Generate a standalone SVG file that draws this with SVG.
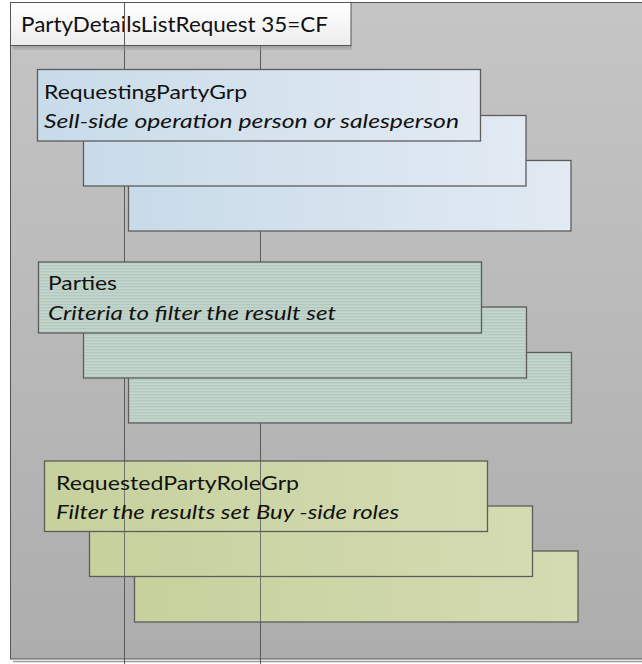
<svg xmlns="http://www.w3.org/2000/svg" width="642" height="664" viewBox="0 0 642 664">
  <defs>
    <linearGradient id="bg" x1="0" y1="0" x2="0" y2="1">
      <stop offset="0" stop-color="#c5c5c5"/>
      <stop offset="1" stop-color="#adadad"/>
    </linearGradient>
    <linearGradient id="title" x1="0" y1="0" x2="0" y2="1">
      <stop offset="0" stop-color="#ffffff"/>
      <stop offset="1" stop-color="#ececec"/>
    </linearGradient>
    <linearGradient id="blue" x1="0" y1="0" x2="1" y2="0">
      <stop offset="0" stop-color="#c8dbe9"/>
      <stop offset="1" stop-color="#e2eaf3"/>
    </linearGradient>
    <linearGradient id="olive" x1="0" y1="0" x2="1" y2="0">
      <stop offset="0" stop-color="#c6d19d"/>
      <stop offset="1" stop-color="#d4dbb2"/>
    </linearGradient>
    <pattern id="stripe" x="0" y="0" width="8" height="3" patternUnits="userSpaceOnUse">
      <rect x="0" y="0" width="8" height="1" fill="#c4d6c6"/>
      <rect x="0" y="1" width="8" height="1" fill="#b4c9c7"/>
      <rect x="0" y="2" width="8" height="1" fill="#bed1c6"/>
    </pattern>
    <style>
      .box { stroke: #5c5c5c; stroke-width: 1.3; }
      .b1 { fill: url(#blue); }
      .b2 { fill: url(#stripe); }
      .b3 { fill: url(#olive); }
      .vline { stroke: #5a5a5a; stroke-width: 1; fill: none; }
      .name { font-family: Lato, "Liberation Sans", sans-serif; font-size: 20px; fill: #111; }
      .desc { font-family: Lato, "Liberation Sans", sans-serif; font-size: 20px; font-style: italic; fill: #111; }
      .ttl { font-family: Lato, "Liberation Sans", sans-serif; font-size: 21px; fill: #111; }
    </style>
  </defs>

  <rect x="0" y="0" width="642" height="664" fill="#ffffff"/>
  <!-- frame -->
  <g id="frame">
    <rect x="10.5" y="2.5" width="640" height="656.5" fill="url(#bg)" stroke="#555" stroke-width="1"/>
    <line x1="13" y1="661.5" x2="642" y2="661.5" stroke="#9a9a9a" stroke-width="1.5"/>
  </g>

  <g id="lines">
    <line class="vline" x1="124.5" y1="2" x2="124.5" y2="664"/>
    <line class="vline" x1="260.5" y1="2" x2="260.5" y2="664"/>
  </g>

  <g id="title-node">
    <rect x="10.5" y="2.5" width="340.5" height="43" fill="url(#title)" stroke="#555" stroke-width="1"/>
    <line x1="13" y1="47" x2="352" y2="47" stroke="#8a8a8a" stroke-width="1"/>
    <line x1="13" y1="49" x2="352" y2="49" stroke="#9d9d9d" stroke-width="1"/>
    <text class="ttl" x="21" y="32" textLength="307" lengthAdjust="spacingAndGlyphs">PartyDetailsListRequest  35=CF</text>
    <line class="vline" x1="124.5" y1="2" x2="124.5" y2="46"/>
  </g>

  <g id="requesting-party-grp">
    <rect class="box b1" x="128.5" y="160.5" width="442.5" height="70.5"/>
    <rect class="box b1" x="83.5" y="115.5" width="442.5" height="70.5"/>
    <rect class="box b1" x="37.5" y="69.5" width="443" height="71.5"/>
    <text class="name" x="44" y="99" textLength="203" lengthAdjust="spacingAndGlyphs">RequestingPartyGrp</text>
    <text class="desc" x="44" y="127.5" textLength="415" lengthAdjust="spacingAndGlyphs">Sell-side operation person or salesperson</text>
  </g>

  <g id="parties">
    <rect class="box b2" x="128.5" y="352.5" width="443" height="70.5"/>
    <rect class="box b2" x="83.5" y="307" width="443" height="71"/>
    <rect class="box b2" x="38.5" y="262" width="443" height="71"/>
    <text class="name" x="48" y="290" textLength="69" lengthAdjust="spacingAndGlyphs">Parties</text>
    <text class="desc" x="48" y="320" textLength="288" lengthAdjust="spacingAndGlyphs">Criteria to filter the result set</text>
  </g>

  <g id="requested-party-role-grp">
    <rect class="box b3" x="134.5" y="551" width="443.5" height="71"/>
    <rect class="box b3" x="89.5" y="506" width="443" height="70.5"/>
    <rect class="box b3" x="44.5" y="461" width="443" height="70.5"/>
    <line class="vline" x1="124.5" y1="461" x2="124.5" y2="577" stroke-opacity="0.8"/>
    <line class="vline" x1="260.5" y1="461" x2="260.5" y2="622" stroke-opacity="0.8"/>
    <text class="name" x="56" y="490" textLength="243" lengthAdjust="spacingAndGlyphs">RequestedPartyRoleGrp</text>
    <text class="desc" x="56" y="519" textLength="343" lengthAdjust="spacingAndGlyphs">Filter the results set Buy -side roles</text>
  </g>
</svg>
